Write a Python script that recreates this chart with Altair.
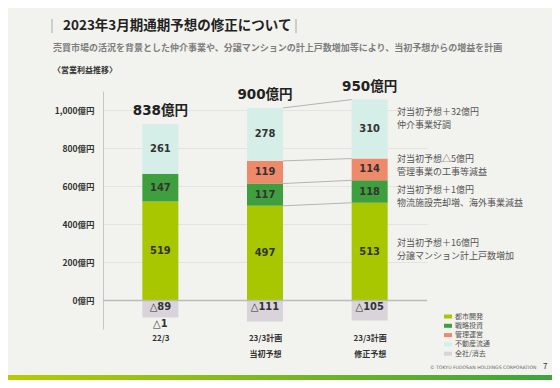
import json
import altair as alt
import pandas as pd

# ---------------- data ----------------
CATEGORIES = ["22/3", "23/3計画\n当初予想", "23/3計画\n修正予想"]
SERIES = ["都市開発", "戦略投資", "管理運営", "不動産流通", "全社/消去"]
URBAN = [519, 497, 513]
STRATEGIC = [147, 117, 118]
MANAGEMENT = [-1, 119, 114]
DISTRIBUTION = [261, 278, 310]
CORPORATE = [-89, -111, -105]
TOTALS = [838, 900, 950]
Y_TICKS = [0, 200, 400, 600, 800, 1000]

TITLE = "2023年3月期通期予想の修正について"
SUBTITLE = "売買市場の活況を背景とした仲介事業や、分譲マンションの計上戸数増加等により、当初予想からの増益を計画"
SECTION = "〈営業利益推移〉"
ANNOTATIONS = [
    "対当初予想＋32億円\n仲介事業好調",
    "対当初予想△5億円\n管理事業の工事等減益",
    "対当初予想＋1億円\n物流施設売却増、海外事業減益",
    "対当初予想＋16億円\n分譲マンション計上戸数増加",
]
FOOTER = "© TOKYU FUDOSAN HOLDINGS CORPORATION"
PAGE_NO = "7"

# ---------------- styles ----------------
COLORS = ["#a9c700", "#3f9f3f", "#ee8a6a", "#d5eee7", "#d8d4d9"]
BG = "#f2f2ee"
JP = "Noto Sans CJK JP"
NUM = "DejaVu Sans Condensed, DejaVu Sans"
# stacking rank: corporate/elimination sits right under zero
RANK = {"全社/消去": 0, "都市開発": 1, "戦略投資": 2, "管理運営": 3, "不動産流通": 4}

series_values = [URBAN, STRATEGIC, MANAGEMENT, DISTRIBUTION, CORPORATE]
rows = []
for name, vals in zip(SERIES, series_values):
    for i, v in enumerate(vals):
        rows.append({"idx": i, "series": name, "value": v, "rank": RANK[name]})
df = pd.DataFrame(rows)

# positive tops per bar
tops = [sum(s[i] for s in series_values if s[i] > 0) for i in range(len(CATEGORIES))]
totals_df = pd.DataFrame({"idx": list(range(len(CATEGORIES))), "top": tops,
                          "label": [f"{t}億円" for t in TOTALS]})

# connectors between bar 2 and bar 3 (cumulative tops of positive segments)
pos_series = [URBAN, STRATEGIC, MANAGEMENT, DISTRIBUTION]
def cum(i):
    out, s = [], 0
    for ser in pos_series:
        if ser[i] > 0:
            s += ser[i]
            out.append(s)
    return out
conn_df = pd.DataFrame({"ia": 1, "ib": 2, "ya": cum(1), "yb": cum(2)})

x_label_expr = " : ".join(
    f"datum.value < {i + 1} ? {json.dumps(c.split(chr(10)), ensure_ascii=False)}"
    for i, c in enumerate(CATEGORIES[:-1])
) + f" : {json.dumps(CATEGORIES[-1].split(chr(10)), ensure_ascii=False)}"

xscale = alt.Scale(domain=[0, 3], nice=False, zero=False)
yscale = alt.Scale(domain=[-150, 1100], nice=False, zero=False)

xaxis = alt.Axis(values=[0.5, 1.5, 2.5], labelExpr=x_label_expr, title=None,
                 domain=False, ticks=False, grid=False, labelPadding=5,
                 labelFont=JP, labelFontSize=8, labelFontWeight="bold",
                 labelColor="#333333", labelLineHeight=16, labelBaseline="top")
yaxis = alt.Axis(values=Y_TICKS, labelExpr="format(datum.value, ',') + '億円'",
                 title=None, ticks=False, domainColor="#c6c6c6", gridColor="#e3e3df",
                 labelFont=JP, labelFontSize=8.5, labelFontWeight="bold",
                 labelColor="#333333", labelPadding=9)

base = alt.Chart(df).transform_stack(
    stack="value", groupby=["idx"], as_=["y0", "y1"],
    sort=[alt.SortField("rank", order="ascending")]
).transform_calculate(
    xc="datum.idx + 0.5",
    mid="(datum.y0 + datum.y1) / 2",
    top="max(datum.y0, datum.y1)",
    label="datum.value < 0 ? '△' + abs(datum.value) : '' + datum.value",
)

bars = base.mark_bar(width=36).encode(
    x=alt.X("xc:Q", scale=xscale, axis=xaxis),
    y=alt.Y("y0:Q", scale=yscale, axis=yaxis),
    y2="y1:Q",
    color=alt.Color("series:N", scale=alt.Scale(domain=SERIES, range=COLORS),
                    legend=alt.Legend(title=None, orient="none", legendX=341, legendY=221.5,
                                      symbolType="M-1,-0.5H1V0.5H-1Z", symbolSize=64,
                                      symbolStrokeWidth=0, labelFont=JP, labelFontSize=7,
                                      labelColor="#555555", labelOffset=3, rowPadding=2.3,
                                      padding=0)),
)

pos_labels = base.transform_filter("datum.value > 0").mark_text(
    font=NUM, fontSize=11, fontWeight="bold", color="#333333", baseline="middle"
).encode(x=alt.X("xc:Q", title=None), y=alt.Y("mid:Q", title=None), text="label:N")

neg_labels = base.transform_filter("datum.value < 0").mark_text(
    font=NUM, fontSize=11, fontWeight="bold", color="#333333", baseline="top", dy=1
).encode(x=alt.X("xc:Q", title=None), y=alt.Y("top:Q", title=None), text="label:N")

totals = alt.Chart(totals_df).transform_calculate(xc="datum.idx + 0.5").mark_text(
    font="DejaVu Sans, " + JP, fontSize=13.5, fontWeight="bold", color="#222222",
    baseline="middle", dy=-13
).encode(x=alt.X("xc:Q", title=None), y=alt.Y("top:Q", title=None), text="label:N")

connectors = alt.Chart(conn_df).transform_calculate(
    xa="datum.ia + 0.5", xb="datum.ib + 0.5"
).mark_rule(xOffset=18, x2Offset=-18, color="#b4b4b4", strokeWidth=1).encode(
    x=alt.X("xa:Q", title=None), x2="xb:Q", y=alt.Y("ya:Q", title=None), y2="yb:Q"
)

zero_rule = alt.Chart(pd.DataFrame({"z": [0]})).mark_rule(
    color="#bcbcbc", strokeWidth=1.5
).encode(y=alt.Y("z:Q", title=None))

one = pd.DataFrame({"k": [0]})

def text_at(t, x, y, **kw):
    return alt.Chart(one).mark_text(align="left", baseline="middle", **kw).encode(
        text=alt.value(t), x=alt.value(x), y=alt.value(y))

title_layers = [
    text_at(TITLE, -40, -65, font=JP, fontSize=13.5, fontWeight="bold", color="#222222"),
    text_at(SUBTITLE, -50, -43, font=JP, fontSize=9, fontWeight="bold", color="#7d7d7d"),
    text_at(SECTION, -50, -20, font=JP, fontSize=8, fontWeight="bold", color="#333333"),
    text_at(FOOTER, 327, 277, font="DejaVu Sans", fontSize=4.6, color="#666666"),
    text_at(PAGE_NO, 440, 276, font=JP, fontSize=8, color="#333333"),
]
bars_deco = [
    alt.Chart(one).mark_rule(color="#a8a8a8", strokeWidth=1).encode(
        x=alt.value(xv), y=alt.value(-72), y2=alt.value(-58))
    for xv in (-51, 193)
]
ann_layers = [
    alt.Chart(one).mark_text(align="left", baseline="top", lineBreak="\n", lineHeight=13.5,
                             font=JP, fontSize=9, color="#555555").encode(
        text=alt.value(t), x=alt.value(294), y=alt.value(yv))
    for t, yv in zip(ANNOTATIONS, [16.5, 63.5, 94.5, 147.5])
]
stripe = alt.Chart(one).mark_rect(
    color=alt.Gradient(gradient="linear",
                       stops=[alt.GradientStop(color="#b6cc00", offset=0),
                              alt.GradientStop(color="#3aa53c", offset=1)],
                       x1=0, x2=1, y1=0, y2=0)
).encode(x=alt.value(-95), x2=alt.value(449), y=alt.value(284), y2=alt.value(289))

chart = alt.layer(
    bars, connectors, zero_rule, pos_labels, neg_labels, totals,
    *title_layers, *bars_deco, *ann_layers, stripe
).properties(
    width=324, height=238,
    autosize=alt.AutoSizeParams(type="none"),
    padding={"left": 95, "top": 83, "right": 125, "bottom": 51},
    background=BG,
).configure_view(stroke=None)

chart.save("out.html", embed_options={"renderer": "svg", "actions": False})
